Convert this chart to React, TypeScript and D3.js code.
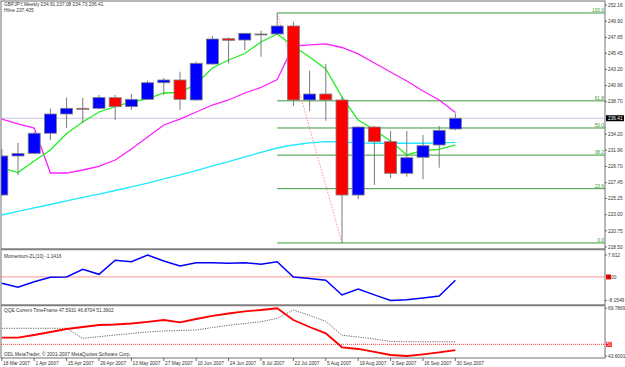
import React, { useRef, useEffect } from 'react';
import * as d3 from 'd3';

// weekly bars, GBPJPY
const weeks = [
  '2007-03-18', '2007-03-25', '2007-04-01', '2007-04-08', '2007-04-15',
  '2007-04-22', '2007-04-29', '2007-05-06', '2007-05-13', '2007-05-20',
  '2007-05-27', '2007-06-03', '2007-06-10', '2007-06-17', '2007-06-24',
  '2007-07-01', '2007-07-08', '2007-07-15', '2007-07-22', '2007-07-29',
  '2007-08-05', '2007-08-12', '2007-08-19', '2007-08-26', '2007-09-02',
  '2007-09-09', '2007-09-16', '2007-09-23', '2007-09-30',
];

const open = [225.73, 231.16, 231.53, 234.32, 237.0, 237.79, 237.79, 239.27, 238.02, 239.04, 241.35, 241.73, 238.95, 243.95, 247.47, 247.29, 248.13, 248.13, 249.24, 238.95, 239.78, 238.95, 225.73, 235.19, 233.15, 228.75, 230.98, 232.69, 234.91];
const high = [232.13, 232.97, 234.5, 237.77, 239.29, 239.23, 239.64, 239.64, 239.78, 241.66, 242.01, 242.88, 244.3, 247.85, 247.67, 248.27, 248.59, 251.05, 249.84, 243.02, 243.95, 239.41, 235.26, 235.33, 234.64, 234.64, 234.08, 235.33, 237.08];
const low = [225.6, 228.52, 231.44, 233.38, 235.05, 235.75, 237.7, 236.17, 237.56, 238.95, 239.64, 237.56, 238.88, 243.88, 244.05, 245.9, 244.97, 248.06, 238.11, 237.42, 236.07, 219.06, 225.14, 227.13, 228.06, 228.28, 227.92, 229.53, 234.73];
const close = [231.16, 231.51, 234.32, 237.0, 237.79, 237.72, 239.29, 238.02, 239.04, 241.35, 241.73, 239.04, 244.05, 247.43, 247.25, 248.22, 248.13, 249.24, 238.95, 239.78, 238.95, 225.73, 235.19, 233.15, 228.75, 230.92, 232.59, 234.73, 236.41];

const maFast = [229.49, 228.86, 230.46, 231.99, 234.29, 235.89, 237.28, 238.04, 238.67, 239.09, 239.92, 239.99, 241.17, 243.4, 244.51, 245.41, 247.01, 248.13, 246.46, 244.93, 243.26, 239.36, 236.17, 234.77, 233.24, 231.3, 231.92, 232.09, 232.69];
const maSlow = [222.95, 223.44, 223.93, 224.41, 224.9, 225.39, 225.87, 226.36, 226.85, 227.4, 227.96, 228.52, 229.14, 229.77, 230.39, 231.02, 231.65, 232.27, 232.69, 232.97, 233.15, 233.11, 232.97, 232.93, 232.93, 232.93, 232.93, 232.97, 233.04];
const maShifted = [236.3, 235.61, 235.05, 228.79, 228.79, 229.21, 229.7, 230.6, 232.13, 233.8, 235.47, 236.3, 237.28, 238.25, 238.95, 239.92, 240.69, 241.8, 246.46, 246.6, 246.74, 246.25, 245.35, 244.09, 242.84, 241.59, 240.2, 238.95, 237.21];

const momentum = [-2.19, -3.58, -1.64, -0.11, 0.02, 2.66, 0.92, 5.78, 5.29, 7.612, 5.53, 3.8, 4.94, 4.94, 4.74, 4.94, 4.39, 5.29, -0.01, -0.53, -1.15, -6.25, -4.17, -6.2, -8.1549, -7.91, -7.27, -6.63, -1.1416];

const qqeFast = [53.65, 53.65, 55.13, 56.78, 58.42, 59.52, 60.62, 60.9, 61.44, 62.38, 63.37, 62.1, 63.91, 65.67, 66.93, 68.14, 68.85, 69.7869, 63.37, 59.52, 56.07, 48.38, 47.45, 45.91, 44.15, 43.6001, 44.54, 45.64, 46.87];
const qqeSlow = [58.81, 58.81, 58.81, 58.81, 58.81, 53.32, 54.2, 55.13, 55.96, 56.78, 57.33, 57.6, 57.88, 59.25, 60.46, 61.44, 62.43, 64.3, 68.85, 65.9, 62.6, 54.97, 54.04, 52.94, 51.6, 51.45, 51.42, 51.4, 51.39];

const priceTicks = [252.16, 249.9, 247.65, 245.45, 243.2, 240.96, 238.7, 234.2, 231.96, 229.7, 227.45, 225.25, 223.0, 220.75, 218.5];
const fibLevels = [0, 23.6, 38.2, 50, 61.8, 100];

const FONT = "'Liberation Sans', Arial, sans-serif";
const FS = 4.8;

const App = () => {
  const ref = useRef<SVGSVGElement>(null);

  useEffect(() => {
    if (!ref.current) return;
    const svg = d3.select(ref.current);
    svg.selectAll('*').remove();

    const plotL = 1;
    const plotR = 605;
    const parse = d3.utcParse('%Y-%m-%d');
    const dates = weeks.map(w => parse(w) as Date);
    const idx = d3.range(weeks.length);

    const x = d3
      .scaleUtc()
      .domain([dates[0], dates[dates.length - 1]])
      .range([1.8, 455.4]);
    const yMain = d3.scaleLinear().domain([218.5, 252.16]).range([247, 5]);
    const yMom = d3.scaleLinear().domain([-8.1549, 7.612]).range([300.5, 255]);
    const yQqe = d3.scaleLinear().domain([43.6001, 69.7869]).range([356, 308.3]);

    const defs = svg.append('defs');
    const clip = (id, y0, y1) =>
      defs
        .append('clipPath')
        .attr('id', id)
        .append('rect')
        .attr('x', plotL)
        .attr('y', y0)
        .attr('width', plotR - plotL)
        .attr('height', y1 - y0);
    clip('clipMain', 1, 248);
    clip('clipMom', 251, 304);
    clip('clipQqe', 307, 357.5);

    const txt = (g, xx, yy, s, fill = '#333', anchor = 'start') =>
      g
        .append('text')
        .attr('x', xx)
        .attr('y', yy)
        .attr('font-family', FONT)
        .attr('font-size', FS)
        .attr('fill', fill)
        .attr('text-anchor', anchor)
        .text(s);

    // ---- main panel
    const main = svg.append('g').attr('clip-path', 'url(#clipMain)');

    // bid line
    main
      .append('line')
      .attr('x1', plotL)
      .attr('x2', plotR)
      .attr('y1', yMain(close[close.length - 1]))
      .attr('y2', yMain(close[close.length - 1]))
      .attr('stroke', '#c6c6dc')
      .attr('stroke-width', 1);

    // fibonacci from swing high to swing low
    const hiIdx = high.indexOf(d3.max(high));
    const loIdx = low.indexOf(d3.min(low));
    const fibHi = high[hiIdx];
    const fibLo = low[loIdx];
    fibLevels.forEach(l => {
      const yy = yMain(fibLo + ((fibHi - fibLo) * l) / 100);
      main
        .append('line')
        .attr('x1', x(dates[hiIdx]))
        .attr('x2', plotR)
        .attr('y1', yy)
        .attr('y2', yy)
        .attr('stroke', '#3a973a')
        .attr('stroke-width', 1);
      txt(main, plotR - 1, yy - 1, l.toFixed(1), '#3a973a', 'end');
    });
    main
      .append('line')
      .attr('x1', x(dates[hiIdx]))
      .attr('y1', yMain(fibHi))
      .attr('x2', x(dates[loIdx]))
      .attr('y2', yMain(fibLo))
      .attr('stroke', '#ff7070')
      .attr('stroke-width', 0.8)
      .attr('stroke-dasharray', '1.5,1.5');

    const lineMain = series =>
      d3
        .line<number>()
        .x(i => x(dates[i]))
        .y(i => yMain(series[i]))(idx);

    main.append('path').attr('d', lineMain(maSlow)).attr('fill', 'none').attr('stroke', '#20e8ff').attr('stroke-width', 1.3);
    main.append('path').attr('d', lineMain(maShifted)).attr('fill', 'none').attr('stroke', '#ff20ff').attr('stroke-width', 1.3);
    main.append('path').attr('d', lineMain(maFast)).attr('fill', 'none').attr('stroke', '#22ee22').attr('stroke-width', 1.3);

    // candles
    main
      .selectAll('line.wick')
      .data(idx)
      .join('line')
      .attr('class', 'wick')
      .attr('x1', i => x(dates[i]))
      .attr('x2', i => x(dates[i]))
      .attr('y1', i => yMain(high[i]))
      .attr('y2', i => yMain(low[i]))
      .attr('stroke', '#7a7a7a')
      .attr('stroke-width', 1);
    main
      .selectAll('rect.body')
      .data(idx)
      .join('rect')
      .attr('class', 'body')
      .attr('x', i => x(dates[i]) - 6)
      .attr('width', 12)
      .attr('y', i => yMain(Math.max(open[i], close[i])))
      .attr('height', i => Math.max(1, Math.abs(yMain(open[i]) - yMain(close[i]))))
      .attr('fill', i => (close[i] > open[i] ? '#0000ff' : close[i] < open[i] ? '#ff0000' : '#333'))
      .attr('stroke', '#808080')
      .attr('stroke-width', 0.8);

    txt(svg, 4, 6, 'GBPJPY,Weekly  234.91 237.08 234.73 236.41');
    txt(svg, 4, 11.8, 'Hline 237.405');

    // ---- momentum panel
    const mom = svg.append('g').attr('clip-path', 'url(#clipMom)');
    mom
      .append('line')
      .attr('x1', plotL)
      .attr('x2', plotR)
      .attr('y1', yMom(0))
      .attr('y2', yMom(0))
      .attr('stroke', '#ffa8a8')
      .attr('stroke-width', 1.2);
    mom
      .append('path')
      .attr('d', d3.line<number>().x(i => x(dates[i])).y(i => yMom(momentum[i]))(idx))
      .attr('fill', 'none')
      .attr('stroke', '#0000ff')
      .attr('stroke-width', 1.5);
    txt(svg, 4, 257.5, 'Momentum-ZL(10) -1.1416');

    // ---- QQE panel
    const qqe = svg.append('g').attr('clip-path', 'url(#clipQqe)');
    qqe
      .append('line')
      .attr('x1', plotL)
      .attr('x2', plotR)
      .attr('y1', yQqe(50))
      .attr('y2', yQqe(50))
      .attr('stroke', '#ff3030')
      .attr('stroke-width', 1)
      .attr('stroke-dasharray', '1,1');
    qqe
      .append('path')
      .attr('d', d3.line<number>().x(i => x(dates[i])).y(i => yQqe(qqeSlow[i]))(idx))
      .attr('fill', 'none')
      .attr('stroke', '#555')
      .attr('stroke-width', 0.9)
      .attr('stroke-dasharray', '1.2,1.2');
    qqe
      .append('path')
      .attr('d', d3.line<number>().x(i => x(dates[i])).y(i => yQqe(qqeFast[i]))(idx))
      .attr('fill', 'none')
      .attr('stroke', '#ff0000')
      .attr('stroke-width', 1.8);
    txt(svg, 4, 312, 'QQE Current TimeFrame 47.5931 46.8704 51.3902');
    txt(svg, 4, 355.8, 'ODL MetaTrader, © 2001-2007 MetaQuotes Software Corp.');

    // ---- frame and separators
    svg
      .append('rect')
      .attr('x', plotL)
      .attr('y', 1)
      .attr('width', plotR - plotL)
      .attr('height', 357)
      .attr('fill', 'none')
      .attr('stroke', '#707070')
      .attr('stroke-width', 1);
    [249.3, 305.3].forEach(yy =>
      svg
        .append('line')
        .attr('x1', plotL)
        .attr('x2', plotR)
        .attr('y1', yy)
        .attr('y2', yy)
        .attr('stroke', '#808080')
        .attr('stroke-width', 2)
    );

    // ---- right axes
    const rightTick = (yy, s) => {
      svg.append('line').attr('x1', plotR).attr('x2', plotR + 2).attr('y1', yy).attr('y2', yy).attr('stroke', '#333').attr('stroke-width', 0.7);
      txt(svg, plotR + 3, yy + 1.7, s);
    };
    priceTicks.forEach(v => rightTick(yMain(v), v.toFixed(2)));
    const last = close[close.length - 1];
    svg.append('rect').attr('x', plotR + 1).attr('y', yMain(last) - 3).attr('width', 18).attr('height', 6).attr('fill', '#000');
    txt(svg, plotR + 3, yMain(last) + 1.7, last.toFixed(2), '#fff');

    rightTick(yMom(7.612), '7.612');
    rightTick(yMom(-8.1549), '-8.1549');
    svg.append('rect').attr('x', plotR + 1).attr('y', yMom(0) - 2.5).attr('width', 5).attr('height', 5).attr('fill', '#ff0000');
    txt(svg, plotR + 2, yMom(0) + 1.7, '0.00');

    rightTick(yQqe(69.7869), '69.7869');
    rightTick(yQqe(43.6001), '43.6001');
    svg.append('rect').attr('x', plotR + 1).attr('y', yQqe(50) - 2.5).attr('width', 6).attr('height', 5).attr('fill', '#ff0000');
    txt(svg, plotR + 1.5, yQqe(50) + 1.7, '50', '#fff');

    // ---- time axis
    const fmt = d3.utcFormat('%-d %b %Y');
    const tickDates = dates.filter((_, i) => i % 2 === 0);
    tickDates.forEach(d => {
      const xx = x(d);
      svg.append('line').attr('x1', xx).attr('x2', xx).attr('y1', 358).attr('y2', 361).attr('stroke', '#333').attr('stroke-width', 0.7);
      txt(svg, xx + 1.2, 364.5, fmt(d));
    });
  }, []);

  return (
    <>
      <style>{`body{margin:0}`}</style>
      <svg ref={ref} width={625} height={367} style={{ display: 'block', background: '#fff' }} />
    </>
  );
};

export default App;
